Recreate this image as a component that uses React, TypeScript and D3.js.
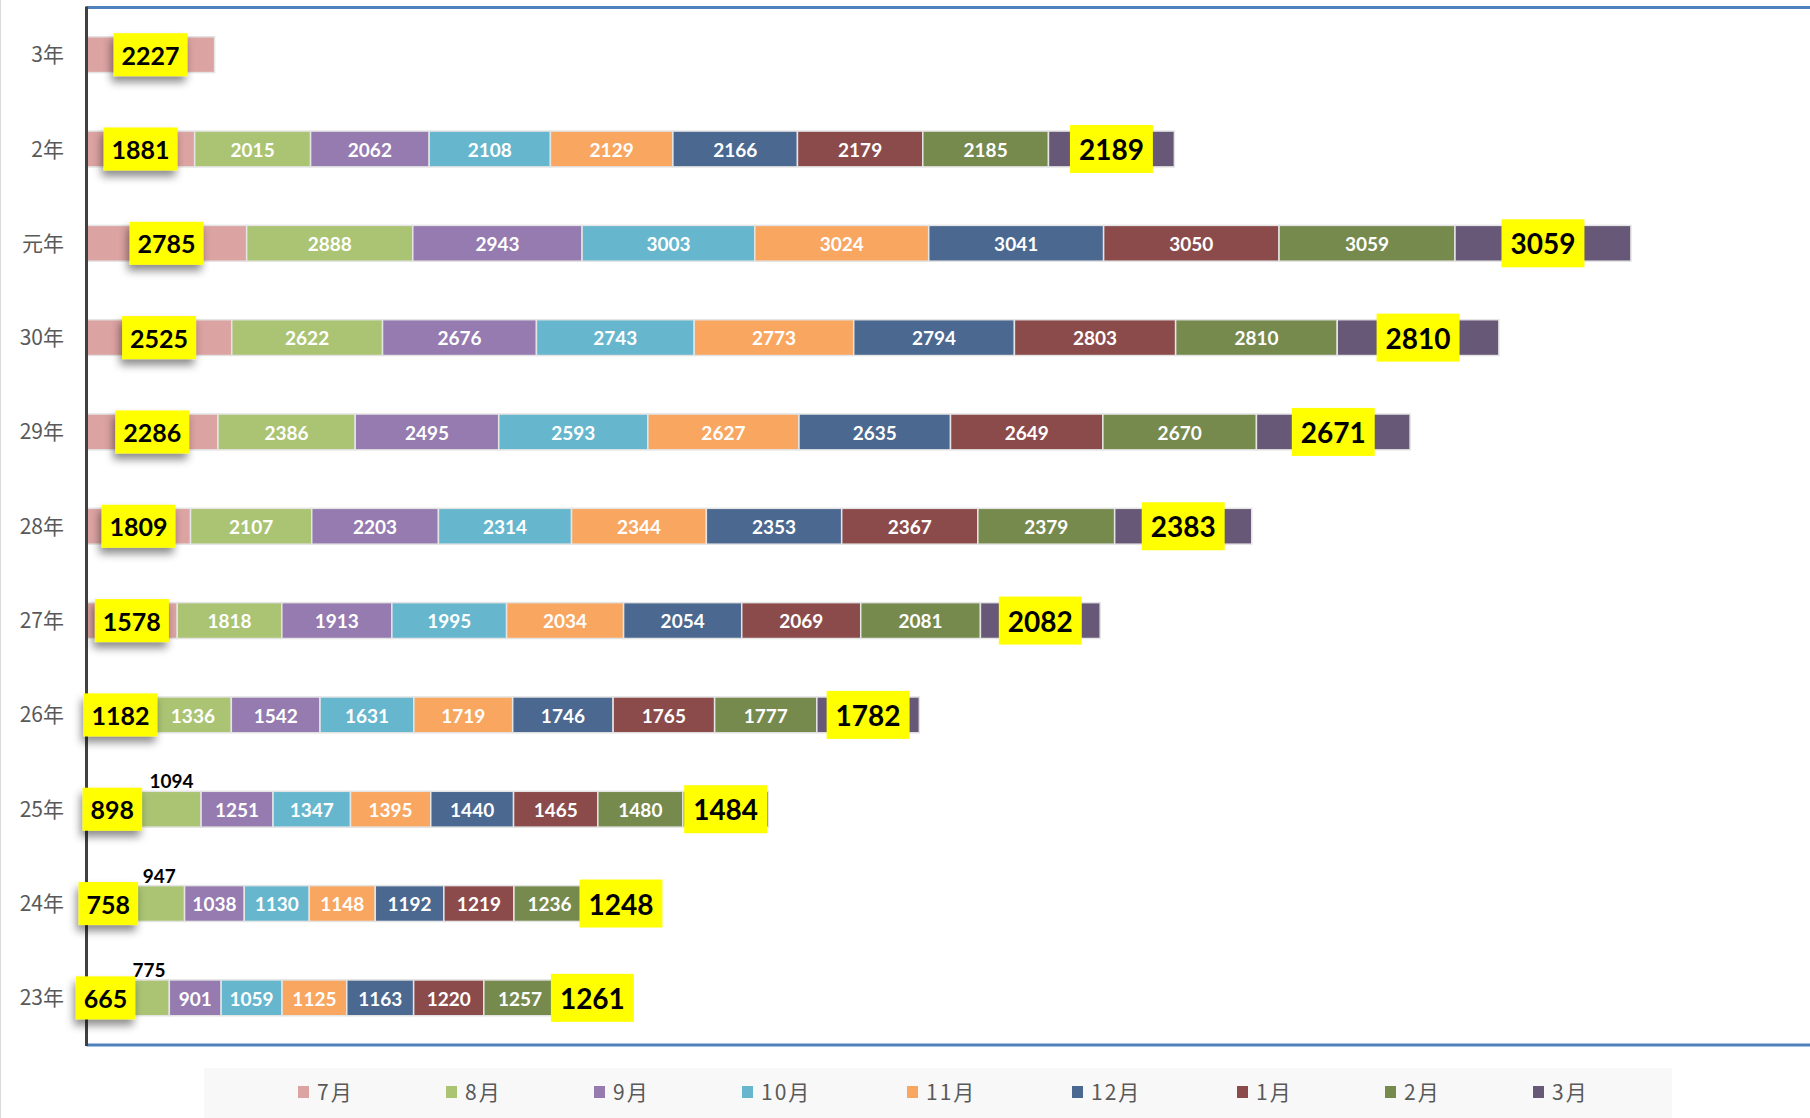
import React, { useEffect, useRef } from "react";
import * as d3 from "d3";

// Categories (top to bottom) and series
const years = ["3年", "2年", "元年", "30年", "29年", "28年", "27年", "26年", "25年", "24年", "23年"];
const months = ["7月", "8月", "9月", "10月", "11月", "12月", "1月", "2月", "3月"];

// Cumulative count at each month, one entry per year (null = no data yet)
const jul = [2227, 1881, 2785, 2525, 2286, 1809, 1578, 1182, 898, 758, 665];
const aug = [null, 2015, 2888, 2622, 2386, 2107, 1818, 1336, 1094, 947, 775];
const sep = [null, 2062, 2943, 2676, 2495, 2203, 1913, 1542, 1251, 1038, 901];
const oct = [null, 2108, 3003, 2743, 2593, 2314, 1995, 1631, 1347, 1130, 1059];
const nov = [null, 2129, 3024, 2773, 2627, 2344, 2034, 1719, 1395, 1148, 1125];
const dec = [null, 2166, 3041, 2794, 2635, 2353, 2054, 1746, 1440, 1192, 1163];
const jan = [null, 2179, 3050, 2803, 2649, 2367, 2069, 1765, 1465, 1219, 1220];
const feb = [null, 2185, 3059, 2810, 2670, 2379, 2081, 1777, 1480, 1236, 1257];
const mar = [null, 2189, 3059, 2810, 2671, 2383, 2082, 1782, 1484, 1248, 1261];

const monthValues = [jul, aug, sep, oct, nov, dec, jan, feb, mar];
const xMax = 30000;

// years whose 8月 label sits above the bar
const aboveLabelYears = ["25年", "24年", "23年"];

const colors = ["#DBA3A2", "#AAC473", "#957BB0", "#66B7CE", "#F9A661", "#4A6890", "#8C4B4B", "#778A4E", "#675877"];

const W = 1810;
const H = 1118;

const App: React.FC = () => {
  const svgRef = useRef<SVGSVGElement>(null);

  useEffect(() => {
    const svg = d3.select(svgRef.current);
    svg.selectAll("*").remove();

    const plot = { left: 86.5, right: 1812, top: 7.5, bottom: 1045 };
    const numFont = "Lato, 'Open Sans', sans-serif";
    const jpFont = "'Noto Sans CJK JP', 'Noto Sans', sans-serif";

    // table for the stack
    const table = years.map((y, i) => {
      const row: any = { year: y };
      months.forEach((m, k) => (row[m] = monthValues[k][i]));
      return row;
    });

    const stacked = d3
      .stack<any>()
      .keys(months)
      .value((d, key) => d[key] ?? 0)(table);

    const x = d3.scaleLinear().domain([0, xMax]).range([plot.left, plot.right]);
    const y = d3
      .scaleBand<string>()
      .domain(years)
      .range([plot.top, plot.bottom])
      .paddingInner(0.62)
      .paddingOuter(0.31);
    const barH = y.bandwidth();

    const defs = svg.append("defs");
    const f = defs
      .append("filter")
      .attr("id", "shadow")
      .attr("x", "-30%")
      .attr("y", "-30%")
      .attr("width", "160%")
      .attr("height", "180%");
    f.append("feDropShadow")
      .attr("dx", -2)
      .attr("dy", 6)
      .attr("stdDeviation", 4)
      .attr("flood-color", "#000")
      .attr("flood-opacity", 0.45);

    svg.append("rect").attr("width", W).attr("height", H).attr("fill", "#fff");
    svg
      .append("line")
      .attr("x1", 0.5)
      .attr("x2", 0.5)
      .attr("y1", 0)
      .attr("y2", H)
      .attr("stroke", "#d9d9d9");

    // plot frame: blue top/bottom, dark left axis
    svg
      .append("line")
      .attr("x1", plot.left)
      .attr("x2", W)
      .attr("y1", plot.top)
      .attr("y2", plot.top)
      .attr("stroke", "#4F81BD")
      .attr("stroke-width", 3);
    svg
      .append("line")
      .attr("x1", plot.left)
      .attr("x2", W)
      .attr("y1", plot.bottom)
      .attr("y2", plot.bottom)
      .attr("stroke", "#4F81BD")
      .attr("stroke-width", 3);

    // bars
    const layers = svg
      .append("g")
      .selectAll("g")
      .data(stacked)
      .enter()
      .append("g")
      .attr("fill", (_d, k) => colors[k]);

    layers
      .selectAll("rect")
      .data((d) => d.filter((s) => s[1] - s[0] > 0))
      .enter()
      .append("rect")
      .attr("x", (s) => x(s[0]))
      .attr("y", (s) => y(s.data.year)!)
      .attr("width", (s) => x(s[1]) - x(s[0]))
      .attr("height", barH)
      .attr("stroke", "#e4e4e4")
      .attr("stroke-width", 1.5);

    // y axis line and labels
    svg
      .append("line")
      .attr("x1", plot.left)
      .attr("x2", plot.left)
      .attr("y1", plot.top - 1)
      .attr("y2", plot.bottom + 1)
      .attr("stroke", "#404040")
      .attr("stroke-width", 3);

    svg
      .append("g")
      .selectAll("text")
      .data(years)
      .enter()
      .append("text")
      .attr("x", 64)
      .attr("y", (d) => y(d)! + barH / 2)
      .attr("dy", "0.36em")
      .attr("text-anchor", "end")
      .attr("font-family", jpFont)
      .attr("font-size", 21)
      .attr("fill", "#595959")
      .text((d) => d);

    // labels
    const labelG = svg.append("g");
    const boxG = svg.append("g");
    const last = months.length - 1;

    stacked.forEach((layer, k) => {
      layer.forEach((s) => {
        const v = monthValues[k][years.indexOf(s.data.year)];
        if (v == null) return;
        const cx = (x(s[0]) + x(s[1])) / 2;
        const top = y(s.data.year)!;
        const cy = top + barH / 2;
        const txt = String(v);

        if (k === 0 || k === last) {
          const fs = k === 0 ? 25 : 28;
          const bw = txt.length * fs * 0.58 + (k === 0 ? 16 : 18);
          const bh = k === 0 ? 43 : 48;
          boxG
            .append("rect")
            .attr("x", cx - bw / 2)
            .attr("y", cy - bh / 2)
            .attr("width", bw)
            .attr("height", bh)
            .attr("fill", "#FFFF00")
            .attr("filter", k === 0 ? "url(#shadow)" : null);
          boxG
            .append("text")
            .attr("x", cx)
            .attr("y", cy + 1)
            .attr("dy", "0.36em")
            .attr("text-anchor", "middle")
            .attr("font-family", numFont)
            .attr("font-weight", 700)
            .attr("font-size", fs)
            .attr("fill", "#000")
            .text(txt);
        } else if (k === 1 && aboveLabelYears.includes(s.data.year)) {
          labelG
            .append("text")
            .attr("x", cx + 2)
            .attr("y", top - 3)
            .attr("text-anchor", "middle")
            .attr("font-family", numFont)
            .attr("font-weight", 700)
            .attr("font-size", 19)
            .attr("fill", "#000")
            .text(txt);
        } else {
          labelG
            .append("text")
            .attr("x", cx)
            .attr("y", cy + 1)
            .attr("dy", "0.36em")
            .attr("text-anchor", "middle")
            .attr("font-family", numFont)
            .attr("font-weight", 700)
            .attr("font-size", 19)
            .attr("fill", "#fff")
            .text(txt);
        }
      });
    });

    // legend
    svg
      .append("rect")
      .attr("x", 204)
      .attr("y", 1068)
      .attr("width", 1468)
      .attr("height", 50)
      .attr("fill", "#f8f8f8");

    let lx = 298;
    const ly = 1092;
    months.forEach((m, k) => {
      const g = svg.append("g").attr("transform", `translate(${lx},${ly})`);
      g.append("rect")
        .attr("x", 0)
        .attr("y", -6)
        .attr("width", 11)
        .attr("height", 12)
        .attr("fill", colors[k]);
      g.append("text")
        .attr("x", 19)
        .attr("y", 0)
        .attr("dy", "0.36em")
        .attr("font-family", jpFont)
        .attr("font-size", 21)
        .attr("letter-spacing", 2)
        .attr("fill", "#595959")
        .text(m);
      lx += 148 + (m.length - 2) * 17;
    });
  }, []);

  return (
    <div style={{ position: "absolute", left: 0, top: 0 }}>
      <svg ref={svgRef} width={W} height={H} style={{ display: "block" }}></svg>
    </div>
  );
};

export default App;
